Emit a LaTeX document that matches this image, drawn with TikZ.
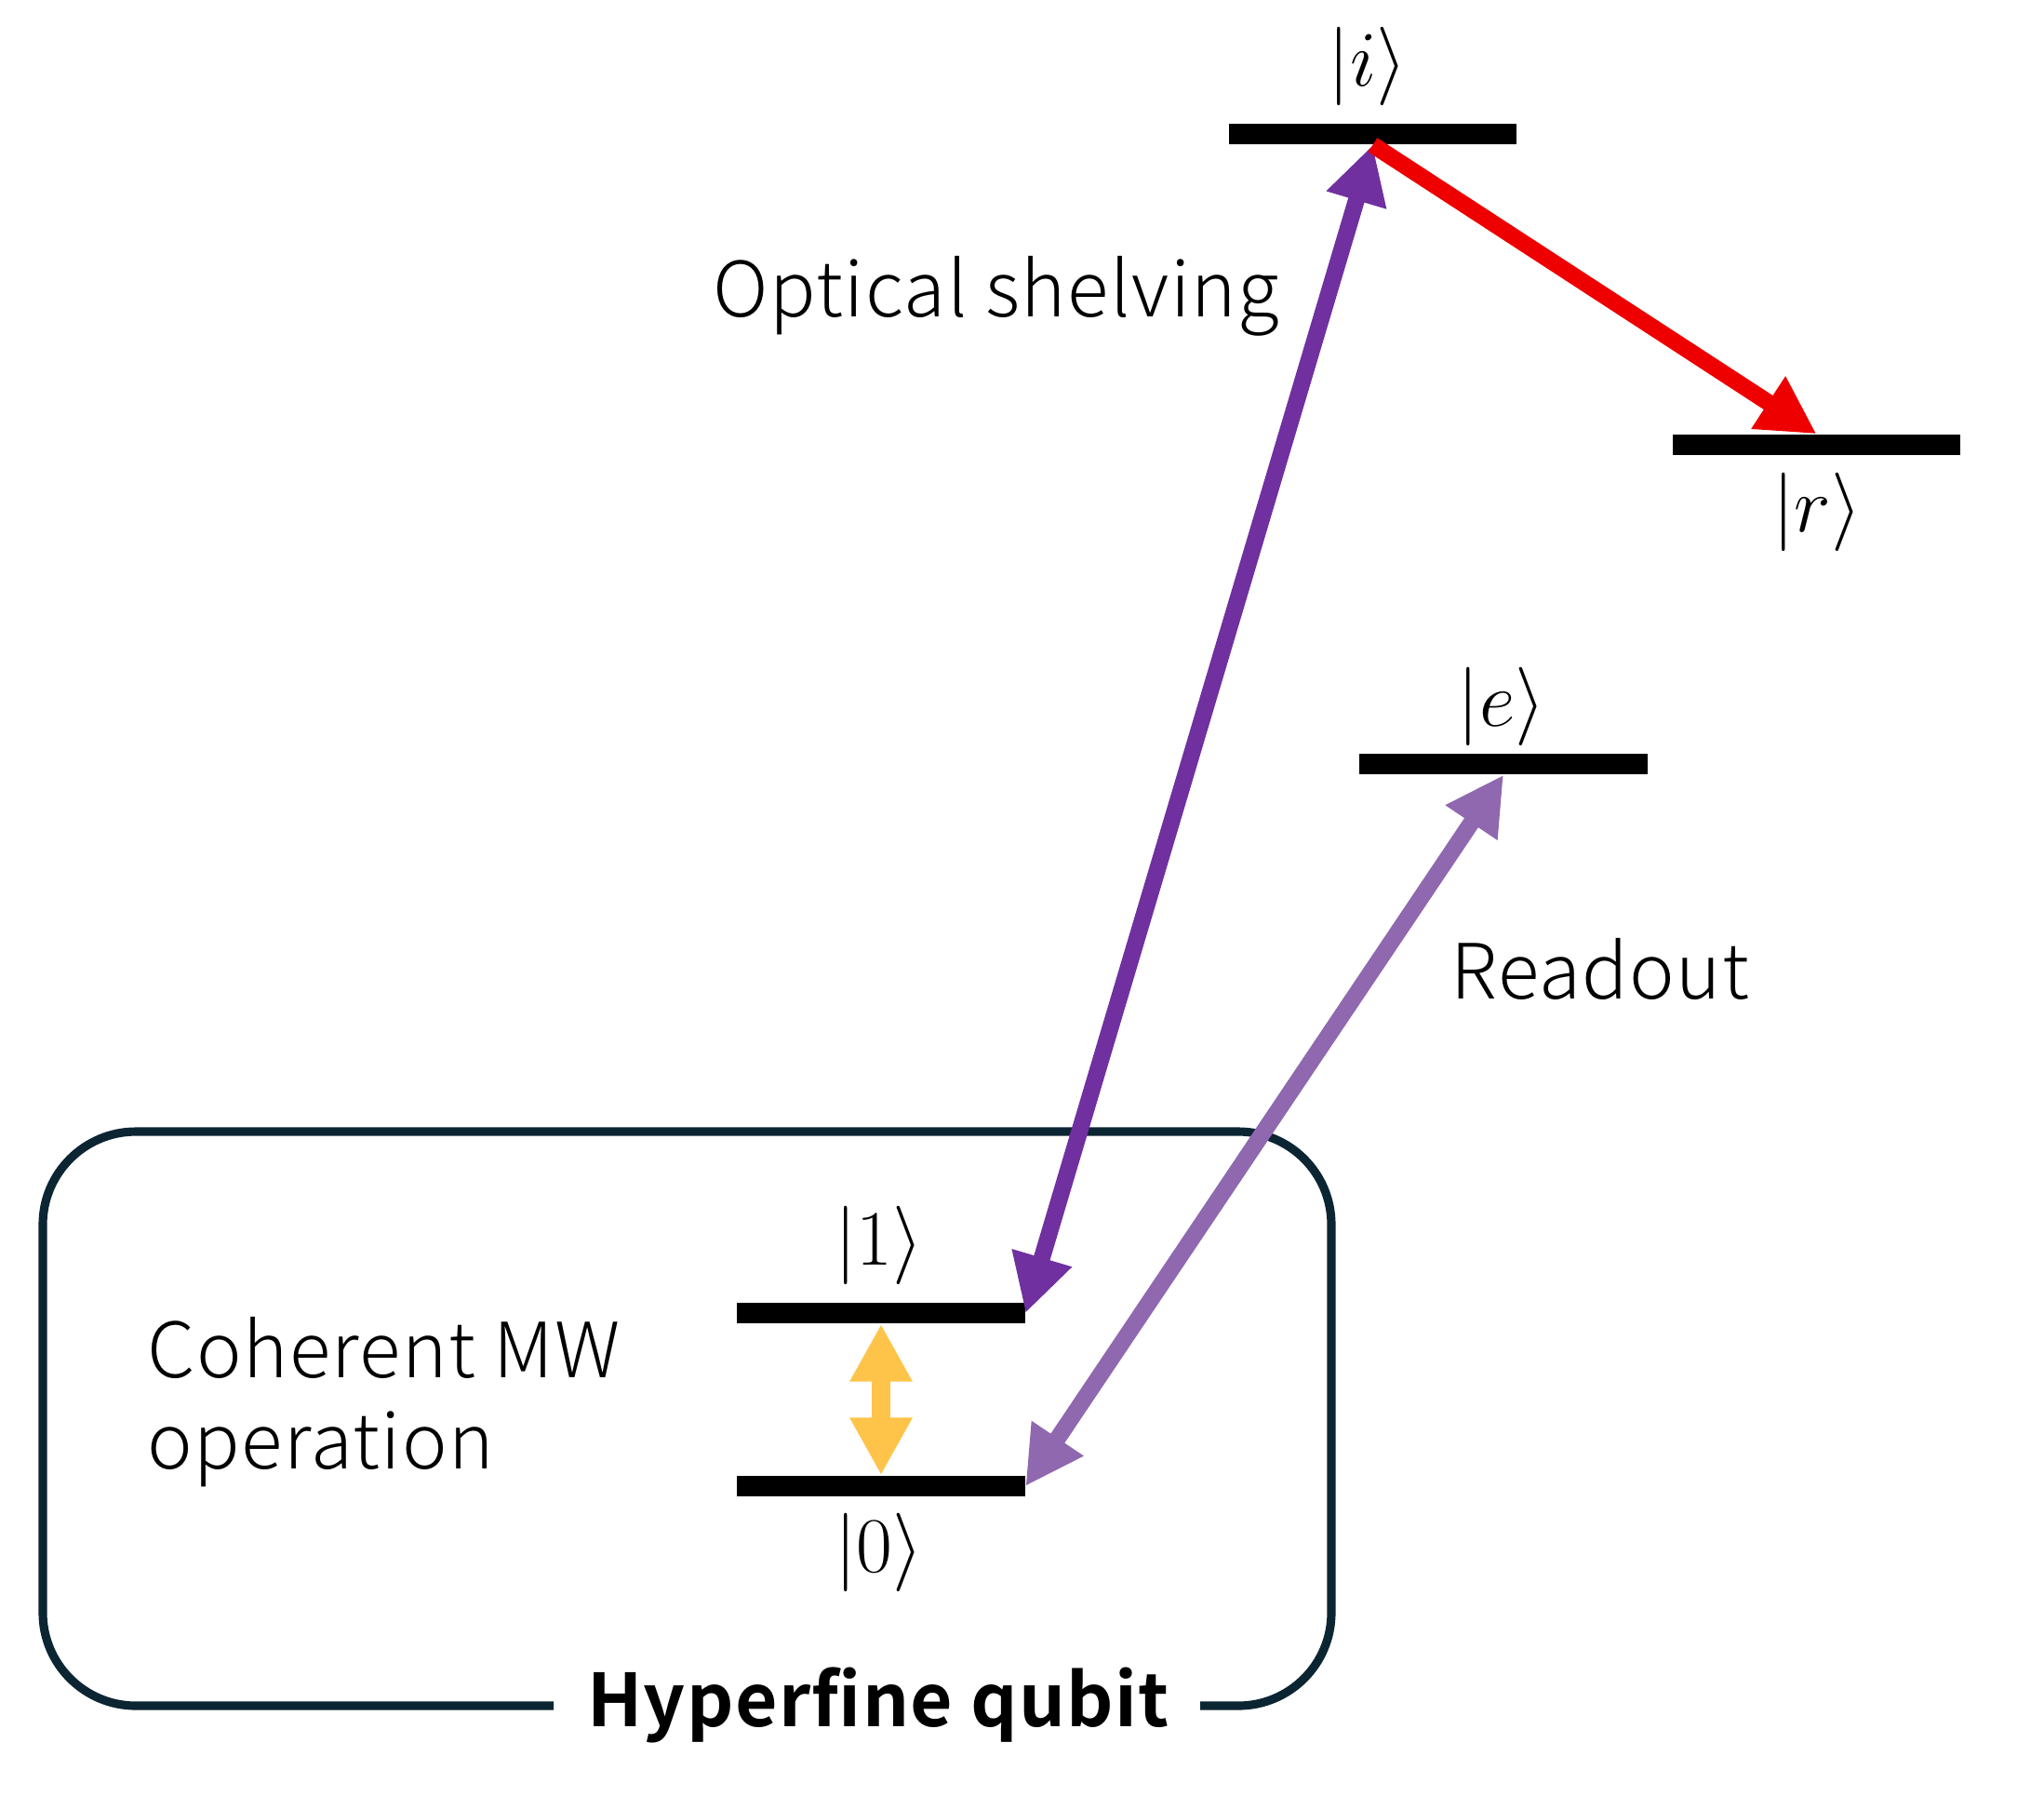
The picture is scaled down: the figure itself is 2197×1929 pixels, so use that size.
\RequirePackage{fix-cm}
\documentclass[tikz,border=0pt]{standalone}
\usepackage{fontspec}
\setmainfont{Noto Sans CJK JP}[UprightFont=* Light,BoldFont=* Bold,LetterSpace=1.8]
\usetikzlibrary{arrows.meta}
\definecolor{dpurple}{HTML}{7030A0}
\definecolor{lpurple}{HTML}{8F68AF}
\definecolor{redarr}{HTML}{EE0000}
\definecolor{gold}{HTML}{FEC44A}
\definecolor{boxc}{HTML}{0C2533}
\tikzset{
  lvl/.style={draw=none,fill=black,minimum width=3.09cm,minimum height=0.22cm,inner sep=0pt},
  ket/.style={inner sep=0pt,font=\fontsize{24}{28}\selectfont},
  lbl/.style={inner sep=0pt,font=\fontsize{23.3}{28}\selectfont},
  tipT/.tip={Triangle[length=17.6pt,width=17.9pt]},
  arr/.style={line width=5.1pt},
}
\begin{document}
\begin{tikzpicture}[x=0.01cm,y=-0.01cm]
\useasboundingbox (0,0) rectangle (2197,1929);
% levels
\node[lvl] (i) at (1475.5,144) {};
\node[lvl] (r) at (1952.5,478) {};
\node[lvl] (e) at (1616,821) {};
\node[lvl] (q1) at (947,1411) {};
\node[lvl] (q0) at (947,1597) {};
% ket labels
\node[ket] (ki) at (1470,71) {$|i\rangle$};
\node[ket] (kr) at (1953,550) {$|r\rangle$};
\node[ket] (ke) at (1614,759) {$|e\rangle$};
\node[ket] (k1) at (945,1338) {$|1\rangle$};
\node[ket] (k0) at (945,1668) {$|0\rangle$};
% box
\draw[boxc,line width=2.6pt,rounded corners=1cm]
  (595,1833) -- (46,1833) -- (46,1216) -- (1431,1216) -- (1431,1833) -- (1290,1833);
\node[lbl,anchor=base,font=\fontsize{22.3}{27}\selectfont\bfseries] (hq) at (944,1855) {Hyperfine qubit};
% text labels
\node[lbl,anchor=base west] (os) at (766,340) {Optical shelving};
\node[lbl,anchor=base west] (ro) at (1559,1073) {Readout};
\node[lbl,anchor=base west] (cm) at (158,1480) {Coherent MW};
\node[lbl,anchor=base west] (op) at (158,1578) {operation};
% arrows
\draw[arr,dpurple,tipT-tipT] (q1.east) -- (i.south);
\draw[arr,lpurple,tipT-tipT] (q0.east) -- (e.south);
\draw[arr,redarr,-tipT] (i.south) -- (r.north);
\draw[line width=5.7pt,gold,tipT-tipT] (q1.south) -- (q0.north);
\end{tikzpicture}
\end{document}
